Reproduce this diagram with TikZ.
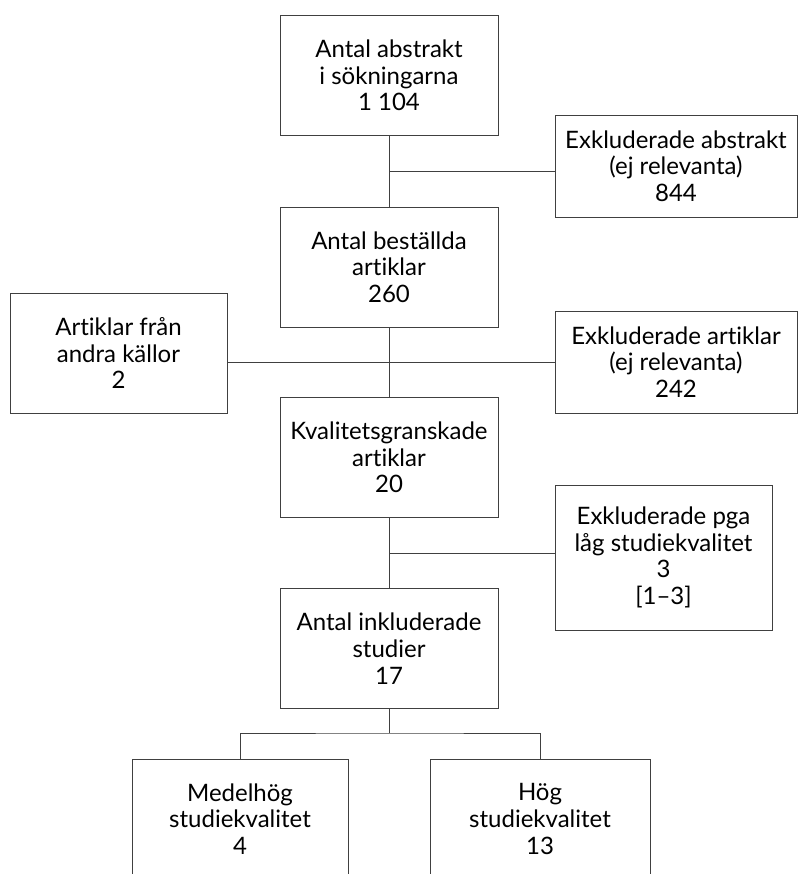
\documentclass[tikz,border=0pt]{standalone}
\usepackage{fontspec}
\setmainfont[Ligatures={NoCommon,NoContextual,NoRequired}, RawFeature={-liga;-clig;-calt;-dlig}]{Lato}
\tikzset{
  box/.style={draw=black!75, line width=0.75pt, align=center, inner sep=0pt,
    font=\fontsize{18}{20}\selectfont},
  mainbox/.style={box, minimum width=163.5pt, minimum height=90pt},
  sidebox/.style={box, minimum width=181.5pt, minimum height=76.5pt},
  link/.style={draw=black!75, line width=0.75pt},
}
\begin{document}
\begin{tikzpicture}[x=0.75pt, y=-0.75pt]
  \clip (0,0) rectangle (799,874);
  % main flow
  \node[mainbox] (abstrakt) at (389,75.5) {Antal abstrakt\\i sökningarna\\1 104};
  \node[mainbox] (bestallda) at (389,267) {Antal beställda\\artiklar\\260};
  \node[mainbox] (granskade) at (389,457.5) {Kvalitetsgranskade\\artiklar\\20};
  \node[mainbox] (inkluderade) at (389,648.5) {Antal inkluderade\\studier\\17};
  % side boxes
  \node[sidebox] (exabstrakt) at (676,166) {Exkluderade abstrakt\\(ej relevanta)\\844};
  \node[sidebox] (exartiklar) at (676,362) {Exkluderade artiklar\\(ej relevanta)\\242};
  \node[mainbox, minimum width=162.75pt] (andra) at (118.5,353) {Artiklar från\\andra källor\\2};
  \node[box, minimum width=162.75pt, minimum height=108.75pt] (exkvalitet) at (663.5,557.5)
    {Exkluderade pga\\låg studiekvalitet\\3\\{[1–3]}};
  % result boxes
  \node[mainbox, minimum width=162pt] (medelhog) at (240,819) {Medelhög\\studiekvalitet\\4};
  \node[mainbox, minimum width=165pt] (hog) at (540,819) {Hög\\studiekvalitet\\13};
  % junctions
  \coordinate (j1) at (389,171);
  \coordinate (j2) at (389,362);
  \coordinate (j3) at (389,553);
  \coordinate (j4) at (389,733);
  \draw[link] (abstrakt) -- (bestallda) -- (granskade) -- (inkluderade);
  \draw[link] (j1) -- (j1 -| exabstrakt.west);
  \draw[link] (j2 -| andra.east) -- (j2 -| exartiklar.west);
  \draw[link] (j3) -- (j3 -| exkvalitet.west);
  \draw[link] (inkluderade) -- (j4);
  \draw[link] (medelhog.north) |- (j4) -| (hog.north);
\end{tikzpicture}
\end{document}
